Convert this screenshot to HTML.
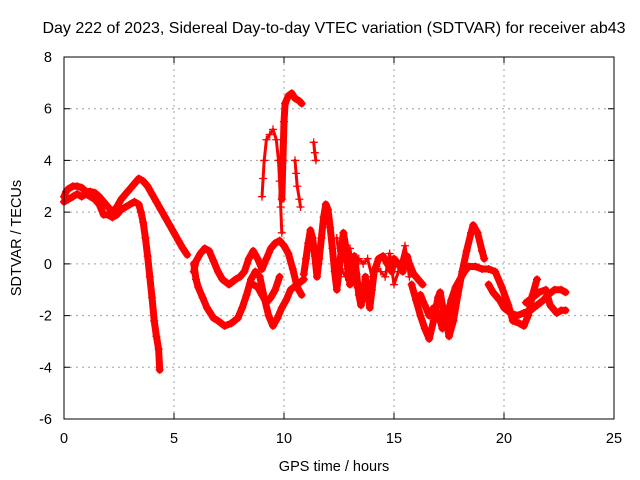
<!DOCTYPE html>
<html><head><meta charset="utf-8"><style>
body{margin:0;background:#fff}
svg{display:block;font-family:"Liberation Sans",sans-serif}
</style></head><body>
<svg id="chart" width="640" height="480" viewBox="0 0 640 480">
<rect width="640" height="480" fill="#fff"/>
<text x="334" y="33" font-size="16" text-anchor="middle">Day 222 of 2023, Sidereal Day-to-day VTEC variation (SDTVAR) for receiver ab43</text>
<text x="334" y="471" font-size="14.5" text-anchor="middle">GPS time / hours</text>
<text transform="translate(21,238) rotate(-90)" font-size="14.5" text-anchor="middle">SDTVAR / TECUs</text>
<g id="grid"></g>
<g id="marks"></g>
<rect x="64" y="57" width="550" height="362" fill="none" stroke="#000" stroke-width="1"/>
<g id="ticks"></g>
</svg>
<script>
const xTicks=[0,5,10,15,20,25];
const yTicks=[-6,-4,-2,0,2,4,6,8];
const trackA=[[0,2.6],[0.1,2.8],[0.2,2.9],[0.4,3.0],[0.6,3.0],[0.8,2.95],[1.0,2.8],[1.2,2.8],[1.4,2.75],[1.6,2.6],[1.8,2.4],[2.0,2.2],[2.2,2.0],[2.4,2.2],[2.6,2.5],[2.8,2.7],[3.0,2.9],[3.2,3.1],[3.4,3.3],[3.6,3.2],[3.8,3.0],[4.0,2.7],[4.2,2.4],[4.4,2.1],[4.6,1.8],[4.8,1.5],[5.0,1.2],[5.2,0.9],[5.4,0.6],[5.6,0.35]];
const trackA2=[[0,2.4],[0.2,2.5],[0.4,2.6],[0.6,2.7],[0.8,2.6],[1.0,2.7],[1.2,2.6],[1.4,2.5],[1.6,2.3],[1.8,1.9],[2.0,1.9],[2.2,1.8],[2.4,1.9],[2.6,2.1],[2.8,2.2],[3.0,2.3],[3.2,2.4],[3.4,2.3],[3.5,2.0],[3.6,1.6],[3.7,1.0],[3.8,0.3],[3.9,-0.5],[4.0,-1.3],[4.1,-2.2],[4.2,-2.8],[4.3,-3.3],[4.35,-4.1]];
const trackB=[[5.9,0],[6.0,-0.6],[6.1,-0.9],[6.3,-1.3],[6.5,-1.7],[6.8,-2.1],[7.0,-2.2],[7.3,-2.4],[7.6,-2.3],[7.9,-2.1],[8.1,-1.7],[8.3,-1.2],[8.5,-0.6],[8.7,-0.3],[8.9,-0.5],[9.1,-1.3],[9.3,-2.0],[9.5,-2.4],[9.7,-2.1],[9.9,-1.7],[10.1,-1.4],[10.3,-1.0],[10.6,-0.8],[10.9,-0.6]];
const trackC=[[5.9,-0.3],[6.0,0.1],[6.2,0.4],[6.4,0.6],[6.6,0.5],[6.8,0.1],[7.0,-0.3],[7.2,-0.6],[7.5,-0.8],[7.8,-0.6],[8.0,-0.5],[8.2,-0.3],[8.4,0.2],[8.6,0.5],[8.8,0.2],[9.0,-0.2],[9.2,0.2],[9.4,0.6],[9.6,0.8],[9.8,0.9],[10.0,0.7],[10.2,0.4],[10.4,-0.2],[10.6,-0.9],[10.8,-1.2]];
const trackD=[[8.6,-0.8],[8.8,-0.9],[9.0,-1.2],[9.2,-1.5],[9.4,-1.3],[9.6,-1.0],[9.8,-0.5]];
const spike1=[[9.0,2.6],[9.05,3.3],[9.1,4.0],[9.2,4.8],[9.35,5.0],[9.5,5.2],[9.65,4.8],[9.75,4.0],[9.8,3.2],[9.85,2.2],[9.9,1.2]];
const spike2=[[9.9,2.5],[9.95,4.0],[10.0,5.5],[10.05,6.2],[10.2,6.5],[10.35,6.6],[10.5,6.4],[10.7,6.3],[10.8,6.2]];
const spike3=[[10.5,4.0],[10.55,3.5],[10.6,3.0],[10.7,2.5],[10.75,2.2]];
const spike4=[[11.35,4.7],[11.4,4.3],[11.45,4.0]];
const trackE=[[10.9,-0.4],[11.0,0.2],[11.1,0.8],[11.2,1.3],[11.3,1.0],[11.4,0.3],[11.5,-0.5],[11.6,0.2],[11.7,1.0],[11.8,1.8],[11.9,2.3],[12.0,2.1],[12.1,1.4],[12.2,0.6],[12.3,-0.3],[12.4,-1.0],[12.5,-0.3],[12.6,0.5],[12.7,1.2],[12.8,0.7],[12.9,-0.2],[13.0,-0.8],[13.1,-0.2],[13.2,0.3],[13.3,-0.4],[13.4,-1.2],[13.5,-1.6],[13.6,-1.2],[13.7,-0.5],[13.8,-1.0],[13.9,-1.7],[14.0,-1.0],[14.1,-0.3],[14.3,0.2],[14.5,0.3],[14.7,0.0],[14.9,-0.3],[15.0,0.2],[15.2,0.0],[15.4,-0.3],[15.6,0.3],[15.7,0.0],[15.9,-0.4],[16.1,-0.6],[16.3,-0.8]];
const trackF=[[12.4,1.0],[12.6,-0.2],[12.8,-0.5],[13.0,0.6],[13.2,-0.8],[13.4,0.2],[13.6,0.0],[13.8,0.2],[14.0,-0.5],[14.2,-0.1],[14.4,-0.3],[14.6,-0.5],[14.8,0.4],[15.0,-0.8],[15.2,-0.3],[15.5,0.7],[15.7,-0.5]];
const trackG=[[15.8,-0.8],[16.0,-1.4],[16.2,-2.0],[16.4,-2.5],[16.6,-2.9],[16.8,-2.2],[17.0,-1.3],[17.1,-1.1],[17.2,-1.6],[17.4,-2.3],[17.5,-2.8],[17.7,-2.2],[17.9,-1.2],[18.1,-0.3],[18.3,0.5],[18.5,1.2],[18.6,1.5],[18.8,1.2],[19.0,0.5],[19.1,0.2]];
const trackH=[[16.2,-1.2],[16.4,-1.6],[16.6,-2.0],[16.8,-1.7],[17.0,-1.9],[17.2,-2.5],[17.4,-2.1],[17.6,-1.4],[17.8,-0.9],[18.0,-0.6],[18.2,-0.3],[18.4,-0.1],[18.7,-0.1],[19.0,-0.2],[19.3,-0.2],[19.6,-0.3],[19.9,-0.9],[20.2,-1.6],[20.4,-2.2],[20.7,-2.3],[20.9,-2.4],[21.1,-2.0],[21.3,-1.2],[21.5,-0.6]];
const trackI=[[19.3,-0.8],[19.5,-1.1],[19.8,-1.4],[20.0,-1.7],[20.3,-1.9],[20.6,-2.0],[20.9,-1.9],[21.2,-1.8],[21.5,-1.6],[21.8,-1.4],[22.0,-1.2],[22.3,-1.0],[22.6,-1.0],[22.8,-1.1]];
const trackJ=[[21.0,-1.5],[21.3,-1.3],[21.6,-1.1],[21.9,-1.0],[22.1,-1.6],[22.4,-1.9],[22.6,-1.8],[22.8,-1.8]];
const tracks=[trackA,trackA2,trackB,trackC,trackD,spike1,spike2,spike3,spike4,trackE,trackF,trackG,trackH,trackI,trackJ];
const sparse=[spike1,spike3,spike4,trackF];
const NS='http://www.w3.org/2000/svg';
const X0=64,X1=614,Y0=419,Y1=57;
function xs(h){return X0+(h-0)/(25-0)*(X1-X0);}
function ys(v){return Y0-(v+6)/(8+6)*(Y0-Y1);}
const grid=document.getElementById('grid'),ticks=document.getElementById('ticks'),marks=document.getElementById('marks');
xTicks.forEach(t=>{
  const x=xs(t);
  if(t>0&&t<25){const g=document.createElementNS(NS,'line');
  g.setAttribute('x1',x);g.setAttribute('x2',x);g.setAttribute('y1',Y1);g.setAttribute('y2',Y0);
  g.setAttribute('stroke','#a0a0a0');g.setAttribute('stroke-dasharray','2,4');
  
  
  grid.appendChild(g);}
  const tk=document.createElementNS(NS,'path');
  tk.setAttribute('d',`M${x} ${Y0}v-6M${x} ${Y1}v6`);tk.setAttribute('stroke','#000');
  
  
  ticks.appendChild(tk);
  const tx=document.createElementNS(NS,'text');
  tx.setAttribute('x',x);tx.setAttribute('y',443);tx.setAttribute('font-size','14.5');tx.setAttribute('text-anchor','middle');
  tx.textContent=t;
  
  
  ticks.appendChild(tx);
});
yTicks.forEach(t=>{
  const y=ys(t);
  if(t>-6&&t<8){const g=document.createElementNS(NS,'line');
  g.setAttribute('x1',X0);g.setAttribute('x2',X1);g.setAttribute('y1',y);g.setAttribute('y2',y);
  g.setAttribute('stroke','#a0a0a0');g.setAttribute('stroke-dasharray','2,4');
  
  
  grid.appendChild(g);}
  const tk=document.createElementNS(NS,'path');
  tk.setAttribute('d',`M${X0} ${y}h6M${X1} ${y}h-6`);tk.setAttribute('stroke','#000');
  
  
  ticks.appendChild(tk);
  const tx=document.createElementNS(NS,'text');
  tx.setAttribute('x',52);tx.setAttribute('y',y+5);tx.setAttribute('font-size','14.5');tx.setAttribute('text-anchor','end');
  tx.textContent=t;
  
  
  ticks.appendChild(tx);
});
tracks.forEach(tr=>{
  const isSparse=sparse.includes(tr);
  const pl=document.createElementNS(NS,'polyline');
  pl.setAttribute('points',tr.map(p=>xs(p[0])+','+ys(p[1])).join(' '));
  pl.setAttribute('fill','none');pl.setAttribute('stroke','#ff0000');pl.setAttribute('stroke-width',isSparse?'3':'7');
  pl.setAttribute('stroke-linejoin','round');pl.setAttribute('stroke-linecap','round');
  
  
  marks.appendChild(pl);
  let d='';
  tr.forEach(p=>{const x=xs(p[0]),y=ys(p[1]);d+=`M${x-4} ${y}h8M${x} ${y-4}v8`;});
  const pm=document.createElementNS(NS,'path');
  pm.setAttribute('d',d);pm.setAttribute('stroke','#ff0000');pm.setAttribute('stroke-width','1.3');
  
  
  marks.appendChild(pm);
});
</script>
</body></html>
